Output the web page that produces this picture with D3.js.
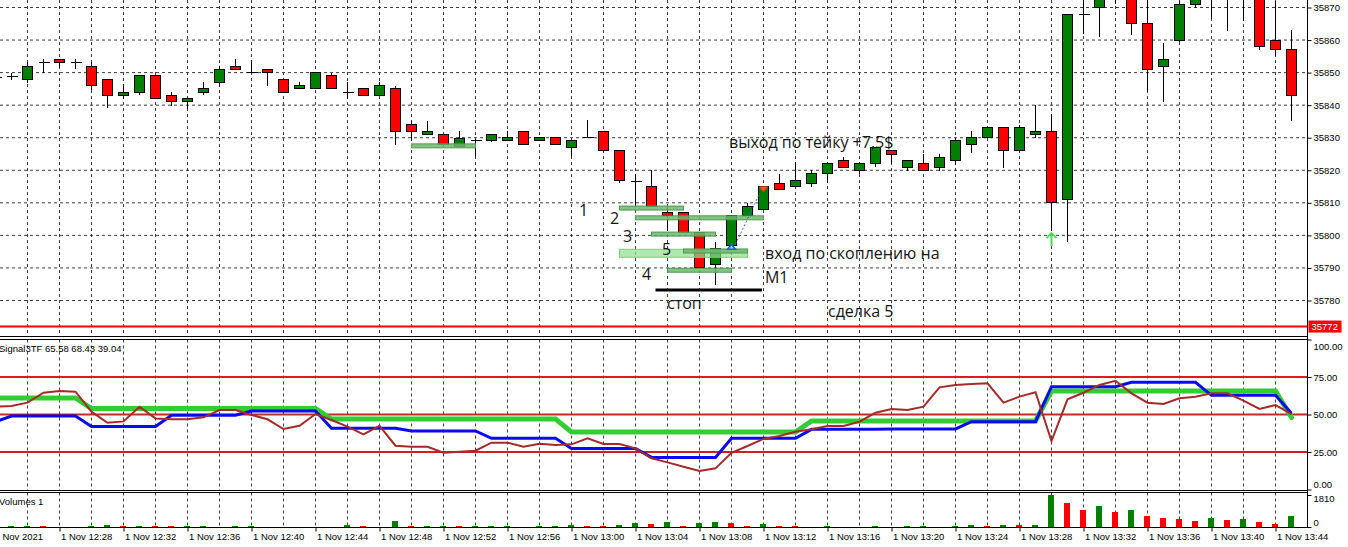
<!DOCTYPE html>
<html>
<head>
<meta charset="utf-8">
<script src="https://cdn.jsdelivr.net/npm/d3@7"></script>
<style>
body { margin: 0; background: #fff; overflow: hidden; }
svg { display: block; font-family: "Liberation Sans", Arial, sans-serif; }
</style>
</head>
<body>
<div id="chart"></div>
<script>
// chart values, one candle per minute from 12:24
var startTime = new Date(2021, 10, 1, 12, 24);

var openP = [35848.5, 35848.7, 35848, 35853, 35854, 35853, 35852, 35848, 35843, 35844,
  35849, 35843, 35841, 35844, 35847, 35852, 35850, 35851, 35848, 35845,
  35845, 35849, 35844, 35845, 35843, 35845, 35834, 35831, 35831, 35827.3,
  35829, 35829, 35829, 35832, 35829, 35830, 35827, 35830, 35832, 35826,
  35816.5, 35815, 35807, 35807, 35801, 35791, 35797, 35806, 35808, 35816,
  35815, 35816, 35819, 35823, 35820, 35822, 35826, 35821, 35822, 35821,
  35823, 35828, 35830, 35833, 35826, 35831, 35832, 35811, 35868, 35870,
  35880, 35876, 35865, 35852, 35860, 35871, 35878, 35874, 35877, 35874,
  35860, 35857];
var highP = [35849, 35850, 35853.3, 35854.2, 35854.1, 35854.2, 35853.3, 35848, 35846.4, 35849,
  35849, 35844, 35842, 35847, 35852.1, 35854.1, 35854, 35851, 35848, 35847,
  35850, 35850, 35847, 35845, 35847, 35846, 35835, 35835.2, 35831, 35832,
  35829.5, 35831.1, 35832, 35832, 35830, 35830, 35829, 35835.3, 35832, 35826,
  35818.8, 35820, 35809, 35807, 35801, 35798, 35806, 35810, 35815, 35819,
  35822.4, 35820, 35822, 35824, 35822, 35827, 35826, 35823, 35825, 35825,
  35830, 35832, 35833, 35833, 35833.8, 35840, 35837.2, 35868, 35876, 35878,
  35884, 35879, 35873, 35859, 35872, 35880, 35882, 35880, 35881, 35876,
  35872, 35863];
var lowP = [35848, 35847.7, 35846.9, 35850, 35851.3, 35851, 35844.7, 35839, 35841.9, 35843,
  35842, 35839.8, 35838.8, 35843, 35845.9, 35851, 35850, 35846, 35844, 35845,
  35845, 35845, 35842, 35843, 35843, 35827.9, 35829, 35831, 35827.5, 35827.3,
  35824, 35828.8, 35829, 35828, 35829, 35828, 35824, 35830, 35826, 35816,
  35809, 35809, 35801.2, 35801, 35790, 35784.8, 35796.6, 35806, 35808, 35814,
  35815, 35815, 35816, 35821, 35819, 35821, 35822, 35819.8, 35820, 35819.8,
  35821.6, 35825.4, 35830, 35820.8, 35826, 35830, 35801.5, 35798, 35862, 35861,
  35871.2, 35861.7, 35844, 35841, 35859.5, 35869.7, 35866.6, 35862.8, 35865.9, 35857,
  35855, 35835];
var closeP = [35848.5, 35848.7, 35852, 35853, 35853, 35853, 35846, 35843, 35844, 35849,
  35842, 35841, 35842, 35845, 35851, 35851, 35850, 35850, 35844, 35846,
  35850, 35845, 35844, 35843, 35846, 35832, 35832, 35832, 35828, 35829.7,
  35829, 35831, 35830, 35828, 35830, 35828, 35829, 35830, 35826, 35817,
  35816.5, 35809, 35806, 35801, 35790, 35796, 35806, 35809, 35815, 35814,
  35817, 35819, 35822, 35821, 35822, 35827, 35825, 35823, 35820, 35824,
  35829, 35830, 35833, 35826, 35833, 35832, 35810, 35868, 35868, 35874,
  35876, 35865, 35851, 35854, 35871, 35876, 35875, 35877, 35874, 35858,
  35857, 35843];

var volumes = [30, 50, 55, 45, 0, 0, 50, 130, 55, 60,
  55, 50, 55, 60, 0, 50, 55, 0, 0, 0,
  0, 0, 130, 60, 0, 360, 60, 65, 70, 55,
  60, 62, 65, 0, 55, 60, 130, 60, 55, 110,
  226, 190, 283, 60, 226, 283, 200, 60, 190, 60,
  50, 0, 50, 0, 0, 50, 0, 55, 60, 0,
  57, 113, 57, 113, 100, 110, 1810, 1357, 962, 1188,
  848, 962, 622, 509, 452, 339, 509, 396, 452, 283,
  170, 622];

// Signal3TF lines: M15 (green), M5 (blue), M1 (brown)
var m15Line = [61, 61, 61, 61, 61, 61, 54, 54, 54, 54,
  54, 54, 54, 54, 54, 54, 54, 54, 54, 54,
  54, 47, 47, 47, 47, 47, 47, 47, 47, 47,
  47, 47, 47, 47, 47, 47, 38.3, 38.3, 38.3, 38.3,
  38.3, 38.3, 38.3, 38.3, 38.3, 38.3, 38.3, 38.3, 38.3, 38.3,
  38.3, 45.7, 45.7, 45.7, 45.7, 45.7, 45.7, 45.7, 45.7, 45.7,
  45.7, 45.7, 45.7, 45.7, 45.7, 45.7, 65.7, 65.7, 65.7, 65.7,
  65.7, 65.7, 65.7, 65.7, 65.7, 65.7, 65.7, 65.7, 65.7, 65.7,
  65.7, 48];
var m5Line = [45.2, 49, 49, 49, 49, 49, 42, 42, 42, 42,
  42, 49.5, 49.5, 49.5, 49.5, 49.5, 52.3, 52.3, 52.3, 52.3,
  52.3, 40.8, 40.8, 40.8, 40.8, 40.8, 39, 39, 39, 39,
  39, 34.1, 34.1, 34.1, 34.1, 34.1, 27.4, 27.4, 27.4, 27.4,
  27.4, 21.4, 21.4, 21.4, 21.4, 21.4, 34.1, 34.1, 34.1, 34.1,
  34.1, 40.1, 40.1, 40.1, 40.1, 40.1, 40.4, 40.4, 40.4, 40.4,
  40.4, 45.2, 45.2, 45.2, 45.2, 45.2, 68.5, 68.5, 68.5, 68.5,
  68.5, 71.5, 71.5, 71.5, 71.5, 71.5, 62.8, 62.8, 62.8, 62.8,
  62.8, 50.8];
var m1Line = [55.2, 55.7, 57.9, 64.5, 65.7, 65.2, 51.9, 44.5, 45.4, 55.2,
  47.4, 46.8, 46.8, 48.1, 53, 53, 49.7, 46.8, 40.3, 42.5,
  50.3, 46.3, 41.9, 36.8, 42.5, 29.2, 28.5, 28.5, 24.5, 25.2,
  25.9, 31.2, 31.2, 28.5, 30.5, 29.7, 30.1, 34.1, 30.3, 30.3,
  27.4, 20.8, 18.1, 15.2, 12.3, 14.1, 24.5, 29, 33.7, 35.7,
  38.5, 40.1, 42.3, 42.3, 45.2, 51.2, 53.7, 53, 55.2, 68.1,
  69.7, 70.3, 70.8, 57.9, 61.9, 64.8, 32.3, 60.1, 64.5, 69.7,
  72.5, 64.1, 57.9, 57, 60.8, 61.9, 64.1, 64.1, 59.2, 53.7,
  56.3, 50.3];

var priceTicks = [35780, 35790, 35800, 35810, 35820, 35830, 35840, 35850, 35860, 35870];
var indTicks = [0, 25, 50, 75, 100];
var indLevels = [75, 50, 25];
var volTicks = [0, 1810];
var stopPrice = 35772;
var indicatorTitle = "Signal3TF 65.58 68.43 39.04";
var volumeTitle = "Volumes 1";

// trade annotations, in candle index and price
var tradeBars = [
  {from: 26, to: 30, price: 35827.5, kind: "level"},
  {from: 39, to: 43, price: 35808.4, kind: "level"},
  {from: 40, to: 48, price: 35805.4, kind: "level"},
  {from: 41, to: 45, price: 35800.4, kind: "level"},
  {from: 39, to: 47, price: 35794.5, kind: "cluster"},
  {from: 43, to: 47, price: 35795.2, kind: "level"},
  {from: 42, to: 46, price: 35789.3, kind: "level"}
];
var stopMark = {from: 41.25, to: 47.9, price: 35783.2};
var entryMark = {i: 46, price: 35797.3};
var exitMark = {i: 48, price: 35813.4};
var signalMark = {i: 66, price: 35800.7};
var textLabels = [
  {i: 45.84, price: 35826.9, text: "выход по тейку +7,5$"},
  {i: 36.47, price: 35806.1, text: "1"},
  {i: 38.41, price: 35803.5, text: "2"},
  {i: 39.22, price: 35798.1, text: "3"},
  {i: 41.66, price: 35794.0, text: "5"},
  {i: 40.4, price: 35786.3, text: "4"},
  {i: 41.97, price: 35777.3, text: "стоп"},
  {i: 48.09, price: 35792.7, text: "вход по скоплению на"},
  {i: 48.09, price: 35785.3, text: "M1"},
  {i: 52.03, price: 35774.9, text: "сделка 5"}
];

var w = 1348, h = 547;
var axisX = 1307.5;
var mainBottom = 336.5, indTop = 339.5, indBottom = 490.5, volTop = 492.5, volBottom = 527.5;

function minuteAt(i) { return new Date(startTime.getTime() + i * 60000); }

var candles = openP.map(function(o, i) {
  return {t: minuteAt(i), o: o, h: highP[i], l: lowP[i], c: closeP[i], v: volumes[i]};
});

var x = d3.scaleTime()
  .domain([startTime, minuteAt(candles.length - 1)])
  .range([-4.5, 1291.5]);
function xAt(i) { return x(minuteAt(i)); }

var yP = d3.scaleLinear().domain([35780, 35870]).range([300.5, 7.5]);
var yI = d3.scaleLinear().domain([0, 100]).range([489.5, 339.5]);
var yV = d3.scaleLinear().domain([0, 1810]).range([527, 495]);

function snap(v) { return Math.round(v - 0.5) + 0.5; }

var svg = d3.select("#chart").append("svg")
  .attr("width", w)
  .attr("height", h);

var defs = svg.append("defs");
function addClip(id, y0, y1) {
  defs.append("clipPath").attr("id", id)
    .append("rect").attr("x", 0).attr("y", y0).attr("width", axisX).attr("height", y1 - y0);
}
addClip("clipMain", 0, mainBottom);
addClip("clipInd", indTop, indBottom);
addClip("clipVol", volTop, volBottom);

// grid, dashed, every 2 candles
var gridTimes = d3.timeMinute.every(2).range(startTime, minuteAt(candles.length));
var gridPanes = [[0, mainBottom], [indTop, indBottom], [volTop, volBottom]];
var grid = svg.append("g").attr("stroke", "#3a3a3a").attr("stroke-dasharray", "3,3").attr("stroke-width", 1);
gridPanes.forEach(function(p) {
  grid.append("g").selectAll("line")
    .data(gridTimes)
    .enter().append("line")
    .attr("x1", function(d) { return x(d); })
    .attr("x2", function(d) { return x(d); })
    .attr("y1", p[0])
    .attr("y2", p[1]);
});
grid.append("g").selectAll("line")
  .data(priceTicks)
  .enter().append("line")
  .attr("x1", 0)
  .attr("x2", axisX)
  .attr("y1", function(d) { return yP(d); })
  .attr("y2", function(d) { return yP(d); });

// main pane
var main = svg.append("g").attr("clip-path", "url(#clipMain)");

main.append("line")
  .attr("x1", 0).attr("x2", axisX)
  .attr("y1", snap(yP(stopPrice))).attr("y2", snap(yP(stopPrice)))
  .attr("stroke", "#ff0000").attr("stroke-width", 2);

var candleG = main.append("g").attr("shape-rendering", "crispEdges");
var cg = candleG.selectAll("g.candle")
  .data(candles)
  .enter().append("g")
  .attr("class", "candle");

cg.append("line")
  .attr("x1", function(d) { return x(d.t); })
  .attr("x2", function(d) { return x(d.t); })
  .attr("y1", function(d) { return yP(d.h); })
  .attr("y2", function(d) { return yP(d.l); })
  .attr("stroke", "#000");

cg.each(function(d) {
  var g = d3.select(this);
  var cx = x(d.t);
  var top = snap(yP(Math.max(d.o, d.c)));
  var bottom = snap(yP(Math.min(d.o, d.c)));
  if (bottom - top < 1) {
    // doji, just a dash
    g.append("line")
      .attr("x1", cx - 5).attr("x2", cx + 6)
      .attr("y1", top).attr("y2", top)
      .attr("stroke", "#000");
  } else {
    g.append("rect")
      .attr("x", cx - 5)
      .attr("y", top)
      .attr("width", 10)
      .attr("height", bottom - top)
      .attr("fill", d.c > d.o ? "#008000" : "#ff0000")
      .attr("stroke", "#000");
  }
});

// trade level bars
main.append("g").selectAll("rect")
  .data(tradeBars)
  .enter().append("rect")
  .attr("x", function(d) { return xAt(d.from); })
  .attr("width", function(d) { return xAt(d.to) - xAt(d.from); })
  .attr("y", function(d) { return yP(d.price) - (d.kind == "cluster" ? 4 : 2); })
  .attr("height", function(d) { return d.kind == "cluster" ? 8 : 4; })
  .attr("fill", function(d) { return d.kind == "cluster" ? "#8fe08f" : "#6fb86f"; })
  .attr("fill-opacity", function(d) { return d.kind == "cluster" ? 0.7 : 0.85; })
  .attr("stroke", function(d) { return d.kind == "cluster" ? "#7ccc7c" : "#4f9a4f"; })
  .attr("stroke-width", 1);

main.append("line")
  .attr("x1", xAt(stopMark.from)).attr("x2", xAt(stopMark.to))
  .attr("y1", yP(stopMark.price)).attr("y2", yP(stopMark.price))
  .attr("stroke", "#000").attr("stroke-width", 3);

// entry -> exit dotted line
main.append("line")
  .attr("x1", xAt(entryMark.i) + 4).attr("y1", yP(entryMark.price))
  .attr("x2", xAt(exitMark.i) - 4).attr("y2", yP(exitMark.price) + 2)
  .attr("stroke", "#2a62e8").attr("stroke-width", 1).attr("stroke-dasharray", "2,2");

// entry arrow (blue caret)
var ex = xAt(entryMark.i), ey = yP(entryMark.price);
main.append("path")
  .attr("d", "M" + (ex - 4) + "," + (ey + 5) + "L" + ex + "," + ey + "L" + (ex + 4) + "," + (ey + 5) + "Z")
  .attr("fill", "#9ec4f0").attr("stroke", "#1f5fd0").attr("stroke-width", 1.5);

// exit arrow (red, pointing down)
var tx = xAt(exitMark.i), ty = yP(exitMark.price);
main.append("path")
  .attr("d", "M" + (tx - 4) + "," + (ty - 5) + "L" + tx + "," + ty + "L" + (tx + 4) + "," + (ty - 5) + "Z")
  .attr("fill", "#ff5a2a").attr("stroke", "#d83a10").attr("stroke-width", 1);

// signal arrow (green, up)
var sx = xAt(signalMark.i), sy = yP(signalMark.price);
main.append("path")
  .attr("d", "M" + sx + "," + sy + "L" + sx + "," + (sy + 13) +
    "M" + (sx - 5) + "," + (sy + 5) + "L" + sx + "," + sy + "L" + (sx + 5) + "," + (sy + 5))
  .attr("fill", "none").attr("stroke", "#4fd65a").attr("stroke-width", 2);

// annotation texts
main.append("g").selectAll("text")
  .data(textLabels)
  .enter().append("text")
  .attr("x", function(d) { return xAt(d.i); })
  .attr("y", function(d) { return yP(d.price); })
  .attr("font-family", "'Open Sans', sans-serif")
  .attr("font-size", "16px")
  .attr("fill", "#151515")
  .text(function(d) { return d.text; });

// indicator pane
var ind = svg.append("g").attr("clip-path", "url(#clipInd)");
var levelColours = {75: "#e5161d", 50: "#bf2a2c", 25: "#d21d22"};
ind.append("g").selectAll("line")
  .data(indLevels)
  .enter().append("line")
  .attr("x1", 0).attr("x2", axisX)
  .attr("y1", function(d) { return yI(d); })
  .attr("y2", function(d) { return yI(d); })
  .attr("stroke", function(d) { return levelColours[d]; })
  .attr("stroke-width", 2);

var indLine = d3.line()
  .x(function(d, i) { return xAt(i); })
  .y(function(d) { return yI(d); });

ind.append("path").datum(m15Line)
  .attr("d", indLine).attr("fill", "none")
  .attr("stroke", "#32cd32").attr("stroke-width", 5).attr("stroke-linecap", "round");
ind.append("path").datum(m5Line)
  .attr("d", indLine).attr("fill", "none")
  .attr("stroke", "#0a0af0").attr("stroke-width", 3);
ind.append("path").datum(m1Line)
  .attr("d", indLine).attr("fill", "none")
  .attr("stroke", "#a52a2a").attr("stroke-width", 2);

svg.append("text")
  .attr("x", -1).attr("y", 352)
  .attr("font-size", "9.5px")
  .text(indicatorTitle);

// volume pane
var vol = svg.append("g").attr("clip-path", "url(#clipVol)").attr("shape-rendering", "crispEdges");
vol.selectAll("rect")
  .data(candles)
  .enter().append("rect")
  .attr("x", function(d) { return x(d.t) - 3.5; })
  .attr("width", 6)
  .attr("y", function(d) { return yV(d.v); })
  .attr("height", function(d) { return yV(0) - yV(d.v); })
  .attr("fill", function(d, i) {
    return (i == 0 || d.v >= candles[i - 1].v) ? "#008000" : "#ff0000";
  });

svg.append("text")
  .attr("x", -1).attr("y", 505)
  .attr("font-size", "9.5px")
  .text(volumeTitle);

// pane borders
var borders = svg.append("g").attr("stroke", "#000").attr("stroke-width", 1).attr("shape-rendering", "crispEdges");
[mainBottom, indTop, indBottom, volTop, volBottom].forEach(function(y) {
  borders.append("line").attr("x1", 0).attr("x2", axisX).attr("y1", y).attr("y2", y);
});
borders.append("line").attr("x1", axisX).attr("x2", axisX).attr("y1", 0).attr("y2", volBottom);

// price axis
var priceAxis = svg.append("g")
  .attr("transform", "translate(" + axisX + ",0)")
  .call(d3.axisRight(yP).tickValues(priceTicks).tickSize(4).tickPadding(2).tickFormat(d3.format("d")));
priceAxis.select(".domain").remove();

svg.append("rect")
  .attr("x", axisX + 1).attr("y", yP(stopPrice) - 6)
  .attr("width", 33).attr("height", 12)
  .attr("fill", "#ff0000");
svg.append("text")
  .attr("x", axisX + 4).attr("y", yP(stopPrice) + 3.5)
  .attr("font-size", "9.5px").attr("fill", "#fff")
  .text(d3.format("d")(stopPrice));

// indicator axis
var indAxis = svg.append("g")
  .attr("transform", "translate(" + axisX + ",0)")
  .call(d3.axisRight(yI).tickValues(indTicks).tickSize(4).tickPadding(2).tickFormat(d3.format(".2f")));
indAxis.select(".domain").remove();
indAxis.selectAll("text").attr("dy", function(d) {
  return d == 100 ? "1.1em" : (d == 0 ? "-0.25em" : "0.32em");
});

// volume axis
var volAxis = svg.append("g")
  .attr("transform", "translate(" + axisX + ",0)")
  .call(d3.axisRight(yV).tickValues(volTicks).tickSize(4).tickPadding(2).tickFormat(d3.format("d")));
volAxis.select(".domain").remove();
volAxis.selectAll("text").attr("dy", function(d) {
  return d == 0 ? "-0.2em" : "0.65em";
});

// time axis
var timeTicks = d3.timeMinute.every(4).range(startTime, minuteAt(candles.length));
var fmtFirst = d3.timeFormat("%-d %b %Y");
var fmtTime = d3.timeFormat("%-d %b %H:%M");
var timeAxis = svg.append("g")
  .attr("transform", "translate(0," + volBottom + ")")
  .call(d3.axisBottom(x).tickValues(timeTicks).tickSize(4).tickFormat(function(d, i) {
    return i == 0 ? fmtFirst(d) : fmtTime(d);
  }));
timeAxis.select(".domain").remove();
timeAxis.selectAll("text")
  .attr("text-anchor", "start")
  .attr("x", function(d, i) { return i == 0 ? -1.5 : 1; })
  .attr("y", 6);

svg.selectAll(".tick text").attr("font-size", "9.5px").attr("font-family", "'Liberation Sans', Arial, sans-serif").attr("fill", "#000");
svg.selectAll(".tick line").attr("stroke", "#000");
</script>
</body>
</html>
